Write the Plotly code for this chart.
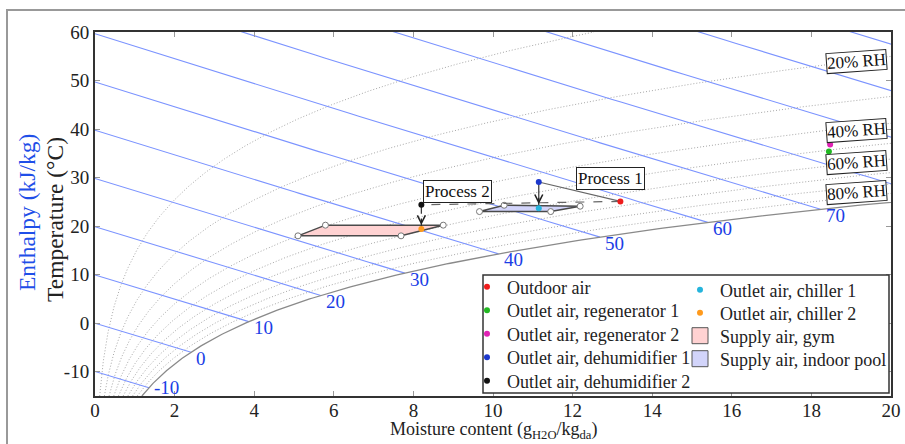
import numpy as np
import plotly.graph_objects as go

FONT = "Liberation Serif"
P_ATM = 101.325  # kPa

# ---------------- data ----------------
x_ticks = [0, 2, 4, 6, 8, 10, 12, 14, 16, 18, 20]
y_ticks = [-10, 0, 10, 20, 30, 40, 50, 60]
y_tick_text = ["-10", "0", "10", "20", "30", "40", "50", "60"]

rh_levels = [0.1, 0.2, 0.3, 0.4, 0.5, 0.6, 0.7, 0.8, 0.9]
rh_label_text = ["20% RH", "40% RH", "60% RH", "80% RH"]
rh_label_temp = [53.9, 39.7, 33.1, 27.0]

enthalpy_levels = [-10, 0, 10, 20, 30, 40, 50, 60, 70, 80, 90, 100, 110, 120]

point_names = ["Outdoor air", "Outlet air, regenerator 1", "Outlet air, regenerator 2",
               "Outlet air, dehumidifier 1", "Outlet air, dehumidifier 2",
               "Outlet air, chiller 1", "Outlet air, chiller 2"]
point_moisture = [13.2, 18.44, 18.47, 11.15, 8.2, 11.15, 8.2]
point_temp = [25.1, 35.4, 36.8, 29.1, 24.4, 23.7, 19.4]
point_colors = ["#ee1c1c", "#22b822", "#e022b4", "#1c38cc", "#111111", "#25b4dc", "#ff9a1c"]

region_names = ["Supply air, gym", "Supply air, indoor pool"]
region_colors = ["#ffd2d2", "#d2d4fa"]
gym_moisture = [5.10, 5.79, 8.75, 7.69]
gym_temp = [18.0, 20.2, 20.2, 18.0]
pool_moisture = [9.66, 10.28, 12.19, 11.45]
pool_temp = [23.0, 24.3, 24.1, 23.0]

# process paths (indices into the point lists)
process1 = [0, 3, 5]   # outdoor -> dehumidifier 1 -> chiller 1
process2 = [0, 4, 6]   # outdoor -> dehumidifier 2 -> chiller 2

# ---------------- psychrometrics ----------------
def p_sat(t):
    return 0.61094 * np.exp(17.625 * t / (t + 243.04))

def w_of(t, phi=1.0):
    ps = phi * p_sat(t)
    return 622.0 * ps / (P_ATM - ps)

def h_of(t, w):
    return 1.006 * t + w * (2.501 + 0.00186 * t)

def sat_point(h):
    lo, hi = -40.0, 80.0
    for _ in range(80):
        mid = 0.5 * (lo + hi)
        if h_of(mid, w_of(mid)) < h:
            lo = mid
        else:
            hi = mid
    return float(w_of(lo)), float(lo)

# ---------------- layout geometry (pixels) ----------------
W_FIG, H_FIG = 905, 444
ML, MR, MT, MB = 95, 14, 32, 48
PW, PH = W_FIG - ML - MR, H_FIG - MT - MB

def px_x(px):
    return (px - ML) / PW

def px_y(py):
    return (H_FIG - MB - py) / PH

fig = go.Figure()
t_grid = np.linspace(-15, 60, 500)

# RH curves
for phi in rh_levels:
    fig.add_trace(go.Scatter(x=w_of(t_grid, phi), y=t_grid, mode="lines",
                             line=dict(color="#a8a8a8", width=1, dash="1px,2px"),
                             hoverinfo="skip", showlegend=False))

# enthalpy lines
ann = []
for h in enthalpy_levels:
    ws, ts = sat_point(h)
    w_end = min(ws, 20.5)
    w_line = np.linspace(0, w_end, 80)
    t_line = (h - 2.501 * w_line) / (1.006 + 0.00186 * w_line)
    fig.add_trace(go.Scatter(x=w_line, y=t_line, mode="lines",
                             line=dict(color="#7b93ff", width=1.1),
                             hoverinfo="skip", showlegend=False))
    if ws <= 20 and ts >= -15:
        ann.append(dict(x=ws, y=ts, text=str(h), showarrow=False, xanchor="left",
                        yanchor="middle", xshift=3, yshift=(0 if h == -10 else -6),
                        font=dict(family=FONT, size=19, color="#1a3ee6")))

# saturation curve
fig.add_trace(go.Scatter(x=w_of(t_grid, 1.0), y=t_grid, mode="lines",
                         line=dict(color="#8a8a8a", width=1.3),
                         hoverinfo="skip", showlegend=False))

# supply air regions
for mw, mt, fill in [(gym_moisture, gym_temp, region_colors[0]),
                     (pool_moisture, pool_temp, region_colors[1])]:
    fig.add_trace(go.Scatter(x=mw + [mw[0]], y=mt + [mt[0]], mode="lines", fill="toself",
                             fillcolor=fill, line=dict(color="#4a4a4a", width=1.5),
                             hoverinfo="skip", showlegend=False))
    fig.add_trace(go.Scatter(x=mw, y=mt, mode="markers",
                             marker=dict(size=6, color="white", line=dict(color="#777", width=1)),
                             hoverinfo="skip", showlegend=False))

# process lines
for path, dash in [(process1, "solid"), (process2, "dash")]:
    fig.add_trace(go.Scatter(x=[point_moisture[path[0]], point_moisture[path[1]]],
                             y=[point_temp[path[0]], point_temp[path[1]]], mode="lines",
                             line=dict(color="#666", width=1.2, dash=dash),
                             hoverinfo="skip", showlegend=False))
    fig.add_trace(go.Scatter(x=[point_moisture[path[1]], point_moisture[path[2]]],
                             y=[point_temp[path[1]], point_temp[path[2]]], mode="lines",
                             line=dict(color="#333", width=1.2, dash=dash),
                             hoverinfo="skip", showlegend=False))
    tgt = path[2]
    ann.append(dict(x=point_moisture[tgt], y=point_temp[tgt], ax=0, ay=-12, text="",
                    showarrow=True, arrowhead=5, arrowsize=1.3, arrowwidth=1.2,
                    arrowcolor="#222", standoff=4))

# legend placement: one legend per entry, arranged in two columns
legend_ids = ["legend"] + ["legend%d" % i for i in range(2, 10)]
legend_left_px = [467, 467, 467, 467, 467, 680, 680, 680, 680]
legend_center_px = [287, 310.5, 334, 357.5, 381, 290, 313, 336, 359]

# state points
for i, (name, mw, mt, col) in enumerate(zip(point_names, point_moisture, point_temp, point_colors)):
    fig.add_trace(go.Scatter(x=[mw], y=[mt], mode="markers", name=name, legend=legend_ids[i],
                             marker=dict(size=6, color=col)))

# legend-only entries for regions
for j, (name, col) in enumerate(zip(region_names, region_colors)):
    fig.add_trace(go.Scatter(x=[None], y=[None], mode="markers", name=name,
                             legend=legend_ids[7 + j],
                             marker=dict(symbol="square", size=16, color=col,
                                         line=dict(color="#555", width=1))))

# RH labels
for txt, ty in zip(rh_label_text, rh_label_temp):
    ann.append(dict(x=20, y=ty, text=txt, showarrow=False, xanchor="right", yanchor="middle",
                    xshift=-3, textangle=-4, bordercolor="#222", borderwidth=1, borderpad=0,
                    bgcolor="white", font=dict(family=FONT, size=17, color="#111")))

# process labels
for txt, px_, py_ in [("Process 1", 12.95, 29.8), ("Process 2", 9.12, 27.2)]:
    ann.append(dict(x=px_, y=py_, text=txt, showarrow=False, bordercolor="#222", borderwidth=1,
                    borderpad=1, bgcolor="white", font=dict(family=FONT, size=17, color="#111")))

# axis titles
ann.append(dict(xref="paper", yref="paper", x=0.5, y=px_y(430),
                text="Moisture content (g<sub>H2O</sub>/kg<sub>da</sub>)",
                showarrow=False, xanchor="center", yanchor="middle",
                font=dict(family=FONT, size=18, color="#222")))
ann.append(dict(xref="paper", yref="paper", x=px_x(55), y=px_y(220), text="Temperature (°C)",
                showarrow=False, textangle=-90, xanchor="center", yanchor="middle",
                font=dict(family=FONT, size=23.5, color="#222")))
ann.append(dict(xref="paper", yref="paper", x=px_x(27), y=px_y(213), text="Enthalpy (kJ/kg)",
                showarrow=False, textangle=-90, xanchor="center", yanchor="middle",
                font=dict(family=FONT, size=23.5, color="#1f4fe8")))

shapes = [
    dict(type="rect", xref="paper", yref="paper", x0=px_x(7), x1=px_x(915), y0=px_y(455), y1=px_y(10),
         line=dict(color="#999", width=2), fillcolor="rgba(0,0,0,0)", layer="below"),
    dict(type="rect", xref="paper", yref="paper", x0=px_x(483), x1=px_x(889), y0=px_y(393), y1=px_y(275),
         line=dict(color="#333", width=1.5), fillcolor="white", layer="above"),
]

axis_common = dict(ticks="inside", ticklen=5, tickcolor="#999", tickwidth=1, showline=True,
                   linecolor="#333", linewidth=2, mirror="ticks", showgrid=False, zeroline=False,
                   tickfont=dict(family=FONT, size=19, color="#222"))

legend_layouts = {}
for lid, lx, lc in zip(legend_ids, legend_left_px, legend_center_px):
    legend_layouts[lid] = dict(x=px_x(lx), y=px_y(lc - 18.5), xanchor="left", yanchor="top",
                               bgcolor="rgba(0,0,0,0)", borderwidth=0, itemwidth=30,
                               font=dict(family=FONT, size=18, color="#222"))

fig.update_layout(
    width=W_FIG, height=H_FIG, margin=dict(l=ML, r=MR, t=MT, b=MB, autoexpand=False),
    paper_bgcolor="white", plot_bgcolor="white",
    font=dict(family=FONT, size=16, color="#222"),
    xaxis=dict(range=[0, 20], tickvals=x_ticks, ticklabelstandoff=-4, **axis_common),
    yaxis=dict(range=[-15, 60], tickvals=y_ticks, ticktext=y_tick_text, **axis_common),
    annotations=ann, shapes=shapes, showlegend=True,
    **legend_layouts,
)

fig.write_html("out.html")
